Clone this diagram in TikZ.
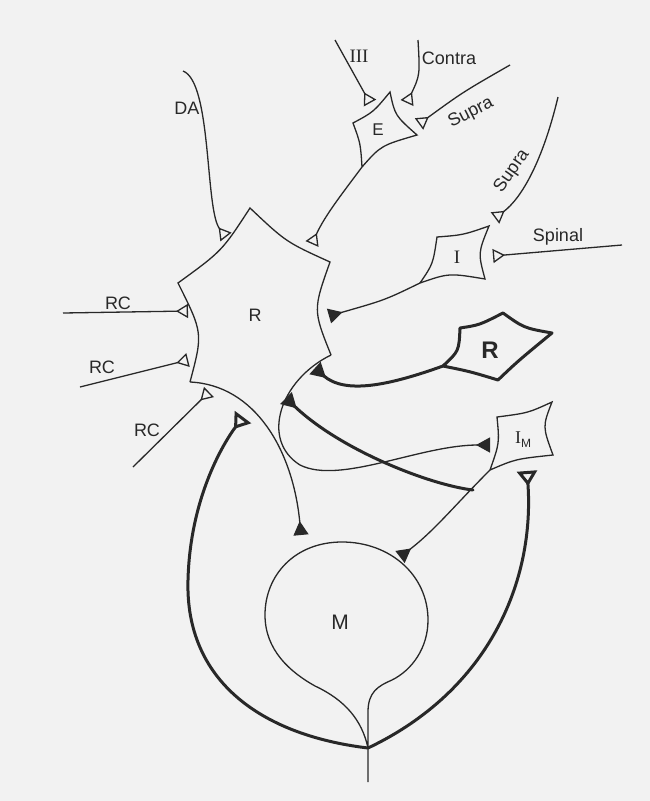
\documentclass[tikz,border=0pt]{standalone}
\usepackage{fontspec}
\setmainfont{Liberation Serif}
\setsansfont{Liberation Sans}
\usetikzlibrary{arrows.meta}
\definecolor{InkGray}{RGB}{40,40,40}
\definecolor{PaperGray}{RGB}{242,242,242}

\begin{document}
\begin{tikzpicture}[x=1pt,y=-1pt,
  cell/.style={draw=InkGray,line width=1.3pt,line join=miter},
  boldcell/.style={draw=InkGray,line width=3pt,line join=round},
  axon/.style={draw=InkGray,line width=1.3pt},
  bigaxon/.style={draw=InkGray,line width=3pt,line cap=round,line join=round},
  opensyn/.style={-{Triangle[open,reversed,length=12pt,width=14pt]}},
  fillsyn/.style={-{Triangle[reversed,length=14pt,width=15pt]}},
  bigfill/.style={-{Triangle[reversed,length=15pt,width=16pt]}},
  bigopen/.style={{Triangle[open,reversed,length=15pt,width=20pt]}-{Triangle[open,reversed,length=15pt,width=20pt]}},
  lbl/.style={font=\fontsize{18}{20}\selectfont\sffamily,text=InkGray,inner sep=1pt},
  numlbl/.style={font=\fontsize{19}{21}\selectfont\rmfamily,text=InkGray,inner sep=1pt}
]
  \fill[PaperGray] (0,0) rectangle (650,801);
  \useasboundingbox (0,0) rectangle (650,801);

  % cell corners and synapse ends
  \coordinate (Rt) at (250,208);  \coordinate (Rrt) at (330,262);
  \coordinate (Rrb) at (331,355); \coordinate (Rbl) at (190,382);
  \coordinate (Rl) at (178,283);
  \coordinate (Elt) at (353,123); \coordinate (Et) at (390,92);
  \coordinate (Er) at (417,135);  \coordinate (Eb) at (362,167);
  \coordinate (Ilt) at (437,237); \coordinate (Irt) at (489,226);
  \coordinate (Irb) at (485,279); \coordinate (Ilb) at (420,283);
  \coordinate (IMlt) at (497,417); \coordinate (IMrt) at (552,402);
  \coordinate (IMrb) at (553,455); \coordinate (IMlb) at (490,470);
  \coordinate (Pl) at (460,328); \coordinate (Pt) at (503,313);
  \coordinate (Pr) at (552,333); \coordinate (Pb) at (498,380);
  \coordinate (Pa) at (443,366);
  \coordinate (Mtop) at (342,542); \coordinate (Mjoin) at (368,748);
  \coordinate (Mbot) at (368,782);
  \coordinate (jIM) at (473,490);

  \coordinate (inDA) at (183,71);     \coordinate (synDA) at (226,237);
  \coordinate (inIII) at (335,40);    \coordinate (synIII) at (370,103);
  \coordinate (inContra) at (418,40); \coordinate (synContra) at (407,103);
  \coordinate (inSupraE) at (510,65); \coordinate (synSupraE) at (419,124);
  \coordinate (inSupraI) at (558,97); \coordinate (synSupraI) at (495,218);
  \coordinate (inSpinal) at (622,245); \coordinate (synSpinal) at (493,256);
  \coordinate (inRCa) at (63,313);    \coordinate (synRCa) at (188,311);
  \coordinate (inRCb) at (80,387);    \coordinate (synRCb) at (188,360);
  \coordinate (inRCc) at (133,467);   \coordinate (synRCc) at (209,392);
  \coordinate (synRE) at (312,244);   \coordinate (synRI) at (329,316);
  \coordinate (synMR) at (301,535);   \coordinate (synIMR) at (490,445);
  \coordinate (synMI) at (400,557);
  \coordinate (synRP) at (315,368);   \coordinate (synRPb) at (286,398);
  \coordinate (synIMt) at (527,471);  \coordinate (synRt) at (243,417);

  % cells
  \draw[cell] (Rrb) .. controls (313,310) .. (Rrt) .. controls (286,242) .. (Rt)
    .. controls (222,251) .. (Rl) .. controls (203,333) .. (Rbl);
  \draw[cell] (Eb) .. controls (360.5,143.5) .. (Elt) .. controls (373.5,112) .. (Et)
    .. controls (395,115.5) .. (Er) .. controls (381,145.5) .. (Eb);
  \draw[cell] (Ilb) .. controls (433,264) .. (Ilt) .. controls (463,235) .. (Irt)
    .. controls (478,253) .. (Irb) .. controls (449,273) .. cycle;
  \draw[cell] (IMlb) .. controls (499.5,443) .. (IMlt) .. controls (528,413) .. (IMrt)
    .. controls (542.5,426.5) .. (IMrb) .. controls (515.5,459) .. cycle;
  \draw[boldcell] (Pa) .. controls (459,351) .. (Pl) .. controls (479.5,325) .. (Pt)
    .. controls (524,328) .. (Pr) .. controls (518,361) .. (Pb) .. controls (470,371.5) .. cycle;
  \draw[cell] (Mbot) -- (368,712) .. controls (368,692) and (378,686) .. (392,680)
    .. controls (412,670) and (428,648) .. (428,620) .. controls (428,575) and (390,542) .. (Mtop)
    .. controls (295,542) and (265,575) .. (265,615) .. controls (265,650) and (290,672) .. (315,686)
    .. controls (345,700) and (362,720) .. (Mjoin);

  % inputs
  \draw[axon,opensyn] (inDA) .. controls (212,82) and (205,210) .. (synDA);
  \draw[axon,opensyn] (inIII) -- (synIII);
  \draw[axon,opensyn] (inContra) .. controls (420,75) .. (synContra);
  \draw[axon,opensyn] (inSupraE) .. controls (463,92) .. (synSupraE);
  \draw[axon,opensyn] (inSupraI) .. controls (543,160) and (522,198) .. (synSupraI);
  \draw[axon,opensyn] (inSpinal) -- (synSpinal);
  \draw[axon,opensyn] (inRCa) -- (synRCa);
  \draw[axon,opensyn] (inRCb) -- (synRCb);
  \draw[axon,opensyn] (inRCc) -- (synRCc);

  % axons
  \draw[axon,opensyn] (Eb) .. controls (345,190) and (325,215) .. (synRE);
  \draw[axon,fillsyn] (Ilb) .. controls (385,300) .. (synRI);
  \draw[axon,fillsyn] (Rbl) .. controls (255,385) and (293,450) .. (synMR);
  \draw[axon,fillsyn] (Rrb) .. controls (280,380) and (260,440) .. (300,465)
    .. controls (340,485) and (420,445) .. (synIMR);
  \draw[axon,fillsyn] (IMlb) .. controls (455,505) and (435,530) .. (synMI);
  \draw[bigaxon,bigfill] (Pa) .. controls (390,385) and (345,395) .. (synRP);
  \draw[bigaxon,bigfill] (jIM) .. controls (430,485) and (340,450) .. (synRPb);
  \draw[bigaxon,bigopen] (synIMt) .. controls (535,580) and (490,690) .. (Mjoin)
    .. controls (260,735) and (185,680) .. (188,580) .. controls (190,500) and (222,445) .. (synRt);

  % labels
  \node[lbl] (lDA) at (187,108) {DA};
  \node[numlbl] (lIII) at (359,56) {III};
  \node[lbl] (lContra) at (449,58) {Contra};
  \node[lbl,rotate=27] (lSupraE) at (471,113) {Supra};
  \node[lbl,rotate=55] (lSupraI) at (512,171) {Supra};
  \node[lbl] (lSpinal) at (558,237) {Spinal};
  \node[lbl] (lRCa) at (118,303) {RC};
  \node[lbl] (lRCb) at (102,367) {RC};
  \node[lbl] (lRCc) at (147,430) {RC};
  \node[lbl] (R) at (255,315) {R};
  \node[lbl,font=\fontsize{17}{19}\selectfont\sffamily] (E) at (378,130) {E};
  \node[numlbl] (I) at (457,257) {I};
  \node[lbl] (IM) at (523,440) {{\rmfamily I}\raisebox{-0.4ex}{\fontsize{12}{12}\selectfont M}};
  \node[lbl,font=\fontsize{24}{26}\selectfont\sffamily\bfseries] (Rp) at (490,350) {R};
  \node[lbl,font=\fontsize{21}{23}\selectfont\sffamily] (M) at (340,622) {M};
\end{tikzpicture}
\end{document}
